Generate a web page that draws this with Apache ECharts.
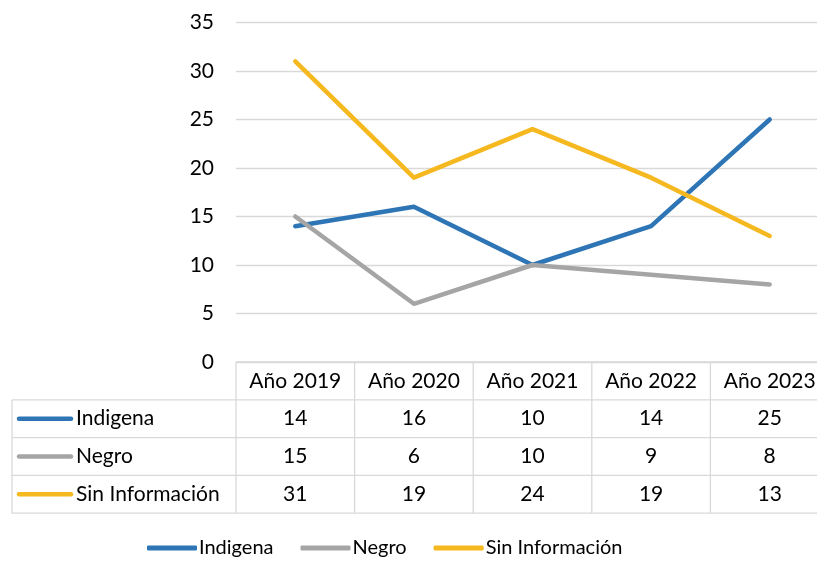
<!DOCTYPE html>
<html>
<head>
<meta charset="utf-8">
<script src="https://cdn.jsdelivr.net/npm/echarts@6/dist/echarts.min.js"></script>
<style>
  html, body { margin: 0; padding: 0; background: #fff; overflow: hidden; }
  #chart { width: 829px; height: 561px; }
</style>
</head>
<body>
<div id="chart"></div>
<script>
const categories = ["Año 2019", "Año 2020", "Año 2021", "Año 2022", "Año 2023"];
const seriesNames = ["Indigena", "Negro", "Sin Información"];
const indigena = [14, 16, 10, 14, 25];
const negro = [15, 6, 10, 9, 8];
const sinInfo = [31, 19, 24, 19, 13];
const colors = ["#2E75B6", "#A5A5A5", "#F6B81F"];

const FONT = "Lato";
const FS = 21;
// the plot runs a little past the right edge of the window, like the original
const chart = echarts.init(document.getElementById("chart"));

const lineSeries = (name, data, color) => ({
  name: name,
  type: "line",
  data: data,
  symbol: "none",
  lineStyle: { width: 4.5, color: color, cap: "round", join: "round" },
  itemStyle: { color: color },
});

chart.setOption({
  animation: false,
  textStyle: { fontFamily: FONT },
  grid: { left: 236, right: 0, top: 22.5, bottom: 199 },
  xAxis: {
    type: "category",
    data: categories,
    axisLine: { show: false },
    axisTick: { show: false },
    axisLabel: { show: false },
  },
  yAxis: {
    type: "value",
    min: 0,
    max: 35,
    interval: 5,
    axisLabel: { color: "#000", fontSize: FS, fontFamily: FONT, margin: 22 },
    splitLine: { lineStyle: { color: "#D9D9D9", width: 1.3 } },
  },
  legend: {
    bottom: -2,
    left: 142,
    icon: "roundRect",
    itemWidth: 50,
    itemHeight: 5,
    itemGap: 27,
    textStyle: { fontSize: 20, color: "#000", fontFamily: FONT, padding: [0, 0, 0, -3] },
    data: seriesNames,
  },
  series: [
    lineSeries(seriesNames[0], indigena, colors[0]),
    lineSeries(seriesNames[1], negro, colors[1]),
    lineSeries(seriesNames[2], sinInfo, colors[2]),
  ],
});

// data table under the plot, placed from the axis scale
const rows = [indigena, negro, sinInfo];
const x0 = chart.convertToPixel({ xAxisIndex: 0 }, 0);
const x1 = chart.convertToPixel({ xAxisIndex: 0 }, 1);
const colW = x1 - x0;
const tableLeft = 12;
const plotLeft = x0 - colW / 2;
const tableTop = chart.convertToPixel({ yAxisIndex: 0 }, 0);
const rowH = 37.8;
const lineStyle = { stroke: "#D9D9D9", lineWidth: 1.3 };
const graphic = [];

// horizontal lines
graphic.push({ type: "line", shape: { x1: plotLeft, y1: tableTop, x2: 830, y2: tableTop }, style: lineStyle });
for (let r = 1; r <= 4; r++) {
  const y = tableTop + r * rowH;
  graphic.push({ type: "line", shape: { x1: tableLeft, y1: y, x2: 830, y2: y }, style: lineStyle });
}
// vertical lines
graphic.push({ type: "line", shape: { x1: tableLeft, y1: tableTop + rowH, x2: tableLeft, y2: tableTop + 4 * rowH }, style: lineStyle });
for (let c = 0; c <= categories.length; c++) {
  const x = plotLeft + c * colW;
  graphic.push({ type: "line", shape: { x1: x, y1: tableTop, x2: x, y2: tableTop + 4 * rowH }, style: lineStyle });
}
// header
categories.forEach((cat, c) => {
  graphic.push({
    type: "text",
    x: chart.convertToPixel({ xAxisIndex: 0 }, c),
    y: tableTop + rowH / 2,
    style: { text: cat, fill: "#000", font: FS + "px " + FONT, align: "center", verticalAlign: "middle" },
  });
});
// rows
rows.forEach((vals, r) => {
  const yc = tableTop + (r + 1.5) * rowH;
  graphic.push({
    type: "line",
    shape: { x1: 19, y1: yc, x2: 71, y2: yc },
    style: { stroke: colors[r], lineWidth: 4.5, lineCap: "round" },
  });
  graphic.push({
    type: "text",
    x: 76,
    y: yc,
    style: { text: seriesNames[r], fill: "#000", font: FS + "px " + FONT, align: "left", verticalAlign: "middle" },
  });
  vals.forEach((v, c) => {
    graphic.push({
      type: "text",
      x: chart.convertToPixel({ xAxisIndex: 0 }, c),
      y: yc,
      style: { text: String(v), fill: "#000", font: FS + "px " + FONT, align: "center", verticalAlign: "middle" },
    });
  });
});

chart.setOption({ graphic: graphic });
</script>
</body>
</html>
